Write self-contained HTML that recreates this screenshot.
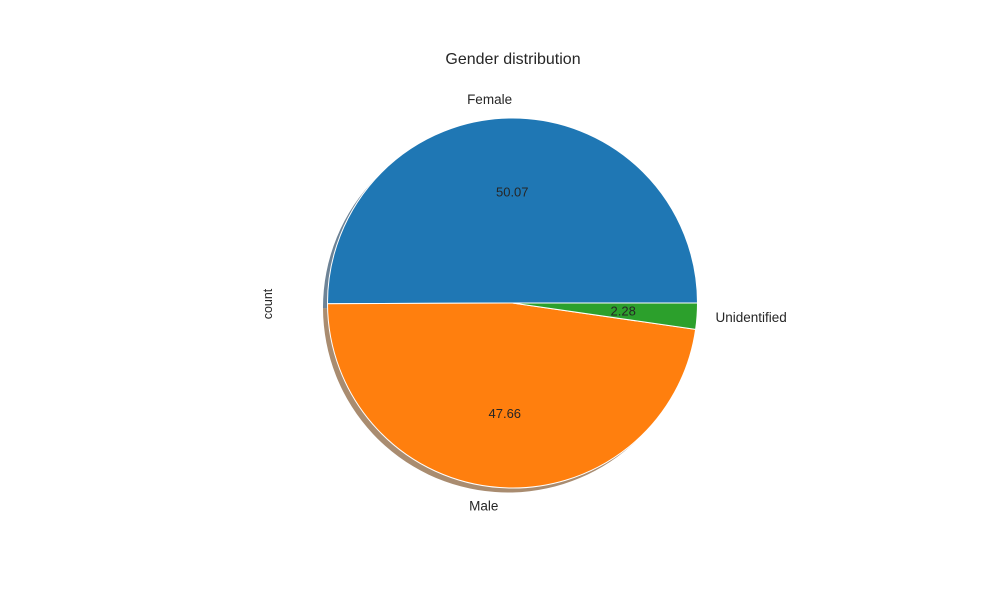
<!DOCTYPE html>
<html><head><meta charset="utf-8"><style>
body{margin:0;background:#fff;}
svg{display:block;font-family:"Liberation Sans","DejaVu Sans",sans-serif;}
</style></head><body>
<svg id="chart" width="1000" height="600" viewBox="0 0 1000 600">
<rect width="1000" height="600" fill="#fff"/>
<text x="513" y="64" text-anchor="middle" font-size="16" fill="#262626">Gender distribution</text>
<text x="272" y="304" text-anchor="middle" font-size="12.5" fill="#262626" transform="rotate(-90 272 304)">count</text>
<g id="shadow"></g>
<g id="slices"></g>
<g id="labels"></g>
</svg>
<script>
const categories = ["Female", "Male", "Unidentified"];
const values = [50.07, 47.66, 2.28];
const pctLabels = ["50.07", "47.66", "2.28"];
const colors = ["#1f77b4", "#ff7f0e", "#2ca02c"];
const shadowColors = ["#0c3050", "#704010", "#104a10"];

const cx = 512.5, cy = 303, r = 185;
const NS = "http://www.w3.org/2000/svg";
const total = values.reduce((a, b) => a + b, 0);
function pt(ang, rad, ox, oy) {
  const a = ang * Math.PI / 180;
  return [cx + ox + rad * Math.cos(a), cy + oy - rad * Math.sin(a)];
}
function arcPath(a0, a1, ox, oy) {
  const p0 = pt(a0, r, ox, oy), p1 = pt(a1, r, ox, oy);
  const large = (a1 - a0) > 180 ? 1 : 0;
  return `M${cx + ox},${cy + oy} L${p0[0]},${p0[1]} A${r},${r} 0 ${large} 0 ${p1[0]},${p1[1]} Z`;
}
const sh = document.getElementById("shadow");
const sl = document.getElementById("slices");
const lb = document.getElementById("labels");
let start = 0;
values.forEach((v, i) => {
  const sweep = v / total * 360;
  const end = start + sweep;
  const s = document.createElementNS(NS, "path");
  s.setAttribute("d", arcPath(start, end, -4.5, 4.5));
  s.setAttribute("fill", shadowColors[i]);
  s.setAttribute("opacity", "0.6");
  
  
  sh.appendChild(s);
  const p = document.createElementNS(NS, "path");
  p.setAttribute("d", arcPath(start, end, 0, 0));
  p.setAttribute("fill", colors[i]);
  p.setAttribute("stroke", "#fff");
  p.setAttribute("stroke-width", "1");
  p.setAttribute("stroke-linejoin", "round");
  
  
  sl.appendChild(p);
  const mid = (start + end) / 2;
  const lp = pt(mid, r * 1.1, 0, 0);
  const cosm = Math.cos(mid * Math.PI / 180);
  const t = document.createElementNS(NS, "text");
  t.setAttribute("x", lp[0]);
  t.setAttribute("y", lp[1] + 4.5);
  t.setAttribute("text-anchor", cosm > 0 ? "start" : "end");
  t.setAttribute("font-size", "13.5");
  t.setAttribute("fill", "#262626");
  t.textContent = categories[i];
  
  
  lb.appendChild(t);
  const pp = pt(mid, r * 0.6, 0, 0);
  const q = document.createElementNS(NS, "text");
  q.setAttribute("x", pp[0]);
  q.setAttribute("y", pp[1] + 4.5);
  q.setAttribute("text-anchor", "middle");
  q.setAttribute("font-size", "13");
  q.setAttribute("fill", "#262626");
  q.textContent = pctLabels[i];
  
  
  lb.appendChild(q);
  start = end;
});
</script>
</body></html>
